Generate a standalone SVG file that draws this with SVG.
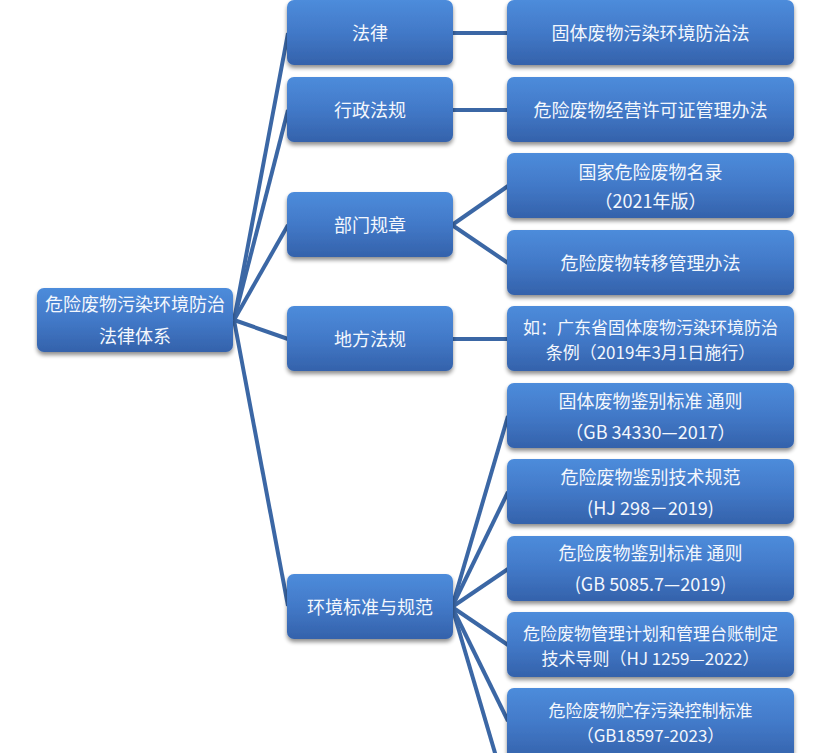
<svg xmlns="http://www.w3.org/2000/svg" width="831" height="753" viewBox="0 0 831 753">
<defs>
<linearGradient id="g" x1="0" y1="0" x2="0" y2="1">
<stop offset="0" stop-color="#4d8cdb"/>
<stop offset="0.5" stop-color="#4279c8"/>
<stop offset="1" stop-color="#3462ab"/>
</linearGradient>
<filter id="sh" x="-10%" y="-10%" width="120%" height="135%">
<feGaussianBlur in="SourceAlpha" stdDeviation="2.2"/>
<feOffset dy="3" result="b"/>
<feComponentTransfer><feFuncA type="linear" slope="0.45"/></feComponentTransfer>
<feMerge><feMergeNode/><feMergeNode in="SourceGraphic"/></feMerge>
</filter>
</defs>
<style>
rect.box{fill:url(#g);filter:url(#sh)}
line{stroke:#3b67a5;stroke-width:4;stroke-linecap:butt}
text{font-family:"Noto Sans CJK SC","Liberation Sans",sans-serif;font-size:18px;fill:#f3f7fd;text-anchor:middle;dominant-baseline:central}
text.t{font-size:17px}
</style>
<rect width="831" height="753" fill="#ffffff"/>
<g id="connectors">
<line x1="234" y1="320" x2="288" y2="33"/>
<line x1="234" y1="320" x2="288" y2="110"/>
<line x1="234" y1="320" x2="288" y2="225"/>
<line x1="234" y1="320" x2="288" y2="339"/>
<line x1="234" y1="320" x2="288" y2="606"/>
<line x1="452" y1="33" x2="508" y2="33"/>
<line x1="452" y1="110" x2="508" y2="110"/>
<line x1="452" y1="225" x2="508" y2="186"/>
<line x1="452" y1="225" x2="508" y2="263"/>
<line x1="452" y1="339" x2="508" y2="339"/>
<line x1="452" y1="607" x2="508" y2="416"/>
<line x1="452" y1="607" x2="508" y2="492"/>
<line x1="452" y1="607" x2="508" y2="569"/>
<line x1="452" y1="607" x2="508" y2="645"/>
<line x1="452" y1="607" x2="508" y2="721"/>
<line x1="452" y1="607" x2="508" y2="797"/>
</g>
<g id="root"><rect class="box" x="37" y="288" width="196" height="64" rx="7"/><text x="135" y="303">危险废物污染环境防治</text><text x="135" y="335">法律体系</text></g>
<g id="n-falv"><rect class="box" x="287" y="0" width="166" height="65" rx="7"/><text x="370" y="32">法律</text></g>
<g id="n-xingzheng"><rect class="box" x="287" y="77" width="166" height="65" rx="7"/><text x="370" y="109">行政法规</text></g>
<g id="n-bumen"><rect class="box" x="287" y="192" width="166" height="65" rx="7"/><text x="370" y="224">部门规章</text></g>
<g id="n-difang"><rect class="box" x="287" y="306" width="166" height="65" rx="7"/><text x="370" y="338">地方法规</text></g>
<g id="n-huanjing"><rect class="box" x="287" y="574" width="166" height="65" rx="7"/><text x="370" y="606">环境标准与规范</text></g>
<g id="l-gufa"><rect class="box" x="507" y="0" width="287" height="65" rx="7"/><text x="650.5" y="32">固体废物污染环境防治法</text></g>
<g id="l-jingying"><rect class="box" x="507" y="77" width="287" height="65" rx="7"/><text x="650.5" y="109">危险废物经营许可证管理办法</text></g>
<g id="l-minglu"><rect class="box" x="507" y="153" width="287" height="65" rx="7"/><text x="650.5" y="171">国家危险废物名录</text><text x="650.5" y="200">（2021年版）</text></g>
<g id="l-zhuanyi"><rect class="box" x="507" y="230" width="287" height="65" rx="7"/><text x="650.5" y="262">危险废物转移管理办法</text></g>
<g id="l-guangdong"><rect class="box" x="507" y="306" width="287" height="65" rx="7"/><text class="t" x="650.5" y="326">如：广东省固体废物污染环境防治</text><text class="t" x="650.5" y="351">条例（2019年3月1日施行）</text></g>
<g id="l-gb34330"><rect class="box" x="507" y="383" width="287" height="65" rx="7"/><text x="650.5" y="400">固体废物鉴别标准 通则</text><text x="650.5" y="431">（GB 34330—2017）</text></g>
<g id="l-hj298"><rect class="box" x="507" y="459" width="287" height="65" rx="7"/><text x="650.5" y="476">危险废物鉴别技术规范</text><text x="650.5" y="507">(HJ 298－2019)</text></g>
<g id="l-gb5085"><rect class="box" x="507" y="536" width="287" height="65" rx="7"/><text x="650.5" y="552">危险废物鉴别标准 通则</text><text x="650.5" y="583">(GB 5085.7—2019)</text></g>
<g id="l-hj1259"><rect class="box" x="507" y="612" width="287" height="65" rx="7"/><text class="t" x="650.5" y="632">危险废物管理计划和管理台账制定</text><text class="t" x="650.5" y="657">技术导则（HJ 1259—2022）</text></g>
<g id="l-gb18597"><rect class="box" x="507" y="688" width="287" height="72" rx="7"/><text class="t" x="650.5" y="709">危险废物贮存污染控制标准</text><text class="t" x="650.5" y="734">（GB18597-2023）</text></g>
</svg>
